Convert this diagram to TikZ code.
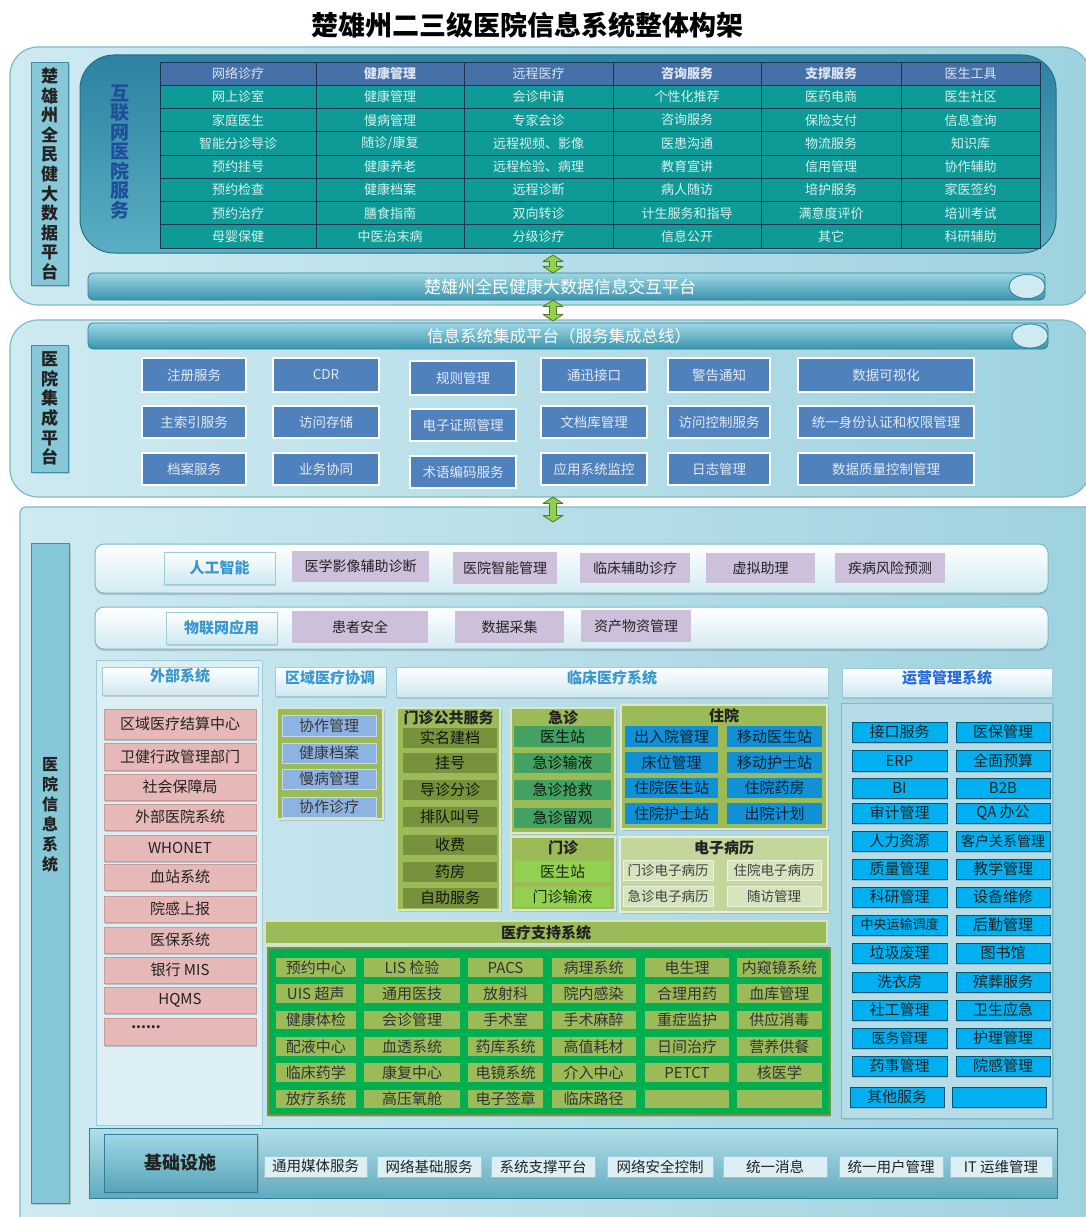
\documentclass[tikz,border=0pt]{standalone}
\usepackage{fontspec}
\setmainfont{Noto Sans CJK SC}
\usetikzlibrary{shadows,calc}
\newcommand\myfs[1]{\fontsize{#1}{#1}\selectfont}
\newcommand\vfs[2]{\fontsize{#1}{#2}\selectfont}
\definecolor{secA}{HTML}{CFEAF1}
\definecolor{secB}{HTML}{9ED2DF}
\definecolor{secD}{HTML}{7CB9C9}
\definecolor{labelbox}{HTML}{86C7D8}
\definecolor{lblD}{HTML}{3D8DA3}
\definecolor{innerA}{HTML}{2C82A0}
\definecolor{innerB}{HTML}{5AAFC3}
\definecolor{innerD}{HTML}{23708A}
\definecolor{tblhead}{HTML}{4670A8}
\definecolor{tblbody}{HTML}{0E9A96}
\definecolor{tblline}{HTML}{1E3550}
\definecolor{tbltext}{HTML}{D6F2EF}
\definecolor{headtext}{HTML}{DCE5F4}
\definecolor{titleblue}{HTML}{1F4E9A}
\definecolor{barA}{HTML}{9FD7E4}
\definecolor{barB}{HTML}{3994AE}
\definecolor{barD}{HTML}{2E7F97}
\definecolor{midblue}{HTML}{4F81BD}
\definecolor{mbtext}{HTML}{E2EAF5}
\definecolor{rowB}{HTML}{D2EBF2}
\definecolor{rowD}{HTML}{7DB9C9}
\definecolor{hdB}{HTML}{CDE8F0}
\definecolor{hdD}{HTML}{9FCBD8}
\definecolor{hdtext}{HTML}{3A97CC}
\definecolor{purp}{HTML}{CCC0DA}
\definecolor{txtdark}{HTML}{222222}
\definecolor{pink}{HTML}{E6B9B8}
\definecolor{pinkD}{HTML}{C99A99}
\definecolor{olive}{HTML}{9BBB59}
\definecolor{darkolive}{HTML}{76923C}
\definecolor{erg}{HTML}{43A262}
\definecolor{lgreen}{HTML}{92D050}
\definecolor{zyblue}{HTML}{1190D6}
\definecolor{emr}{HTML}{C3D69B}
\definecolor{emri}{HTML}{D7E4BD}
\definecolor{regblue}{HTML}{8DB3E2}
\definecolor{supgreen}{HTML}{00B050}
\definecolor{opsblue}{HTML}{00B0F0}
\definecolor{arrowg}{HTML}{92D050}
\definecolor{arrowd}{HTML}{4E7A1E}
\definecolor{panel}{HTML}{DCEFF5}
\newcommand\mybx[7]{\node[#6, minimum width={(#4)-(#2)}, minimum height={(#5)-(#3)}] (#1) at ({((#2)+(#4))/2},{((#3)+(#5))/2}) {#7};}
\newcommand\mytrow[9]{%
\mybx{#1a}{160}{#2}{316}{#3}{tc}{#4}%
\mybx{#1b}{316}{#2}{464}{#3}{tc}{#5}%
\mybx{#1c}{464}{#2}{613}{#3}{tc}{#6}%
\mybx{#1d}{613}{#2}{761}{#3}{tc}{#7}%
\mybx{#1e}{761}{#2}{901}{#3}{tc}{#8}%
\mybx{#1f}{901}{#2}{1040}{#3}{tc}{#9}}
\newcommand\mymrow[9]{%
\mybx{#1a}{142}{#2}{246}{#3}{mb}{#4}%
\mybx{#1b}{273}{#2}{379}{#3}{mb}{#5}%
\mybx{#1c}{410}{#2+3}{516}{#3+3}{mb}{#6}%
\mybx{#1d}{541}{#2}{647}{#3}{mb}{#7}%
\mybx{#1e}{668}{#2}{770}{#3}{mb}{#8}%
\mybx{#1f}{798}{#2}{974}{#3}{mb}{#9}}
\newcommand\mysrow[9]{%
\mybx{#1a}{275.5}{#2}{356}{#3}{sg}{#4}%
\mybx{#1b}{364}{#2}{460}{#3}{sg}{#5}%
\mybx{#1c}{468}{#2}{543}{#3}{sg}{#6}%
\mybx{#1d}{551.5}{#2}{635.5}{#3}{sg}{#7}%
\mybx{#1e}{645}{#2}{729}{#3}{sg}{#8}%
\mybx{#1f}{737}{#2}{821.5}{#3}{sg}{#9}}
\newcommand\myorow[5]{%
\mybx{#1a}{852}{#2}{947}{#3}{ops}{#4}%
\mybx{#1b}{956}{#2}{1050}{#3}{ops}{#5}}
\newcommand\garrow[2]{%
\path[fill=arrowg, draw=arrowd, line width=0.8pt, line join=round] let \p1=(#1), \p2=(#2) in
(\x1,\y1) -- (\x1+10pt,\y1-6.5pt) -- (\x1+3.5pt,\y1-6.5pt) -- (\x1+3.5pt,\y2+6.5pt) -- (\x1+10pt,\y2+6.5pt) -- (\x1,\y2) -- (\x1-10pt,\y2+6.5pt) -- (\x1-3.5pt,\y2+6.5pt) -- (\x1-3.5pt,\y1-6.5pt) -- (\x1-10pt,\y1-6.5pt) -- cycle;}
\begin{document}
\begin{tikzpicture}[x=1pt,y=-1pt,
 every node/.style={inner sep=0pt,outer sep=0pt},
 sect/.style={rounded corners=28, left color=secA, right color=secB, draw=secD, line width=1.2},
 lbl/.style={fill=labelbox, draw=lblD, line width=1, font=\bfseries\vfs{17}{19.6}, align=center, text=txtdark, drop shadow={opacity=0.35,shadow xshift=1.5pt,shadow yshift=-1.5pt}},
 innerbox/.style={rounded corners=34, top color=innerA, bottom color=innerB, draw=innerD, line width=1},
 tc/.style={draw=tblline, line width=0.7, text=tbltext, font=\myfs{13}},
 bar/.style={rounded corners=5, top color=barA, bottom color=barB, draw=barD, line width=0.8},
 barend/.style={fill=secA, draw=barD, line width=0.8},
 bartext/.style={text=white, font=\myfs{17}},
 mb/.style={fill=midblue, draw=white, line width=2.5, text=mbtext, font=\myfs{13.5}, drop shadow={opacity=0.2,shadow xshift=1pt,shadow yshift=-1pt}},
 rowbox/.style={rounded corners=9, top color=white, bottom color=rowB, draw=rowD, line width=1, drop shadow={opacity=0.35,shadow xshift=0pt,shadow yshift=-2pt}},
 hd/.style={top color=white, bottom color=hdB, draw=hdD, line width=0.6, text=hdtext, font=\bfseries\myfs{15}, drop shadow={opacity=0.3,shadow xshift=1pt,shadow yshift=-2pt}},
 hdt/.style={text=hdtext, font=\bfseries\myfs{15}},
 pu/.style={fill=purp, text=txtdark, font=\myfs{14}},
 pk/.style={fill=pink, draw=pinkD, line width=0.5, text=txtdark, font=\myfs{15}, drop shadow={opacity=0.4,shadow xshift=1pt,shadow yshift=-1.5pt}},
 ol/.style={fill=olive, draw=white!65!olive, line width=1.5, drop shadow={opacity=0.3,shadow xshift=1.5pt,shadow yshift=-1.5pt}},
 olt/.style={text=txtdark, font=\bfseries\myfs{15}},
 dko/.style={fill=darkolive, text=black!85!darkolive, font=\myfs{15}},
 eg/.style={fill=erg, text=black!85!erg, font=\myfs{15}},
 lg/.style={fill=lgreen, text=black!80!lgreen, font=\myfs{15}},
 zy/.style={fill=zyblue, text=black!75!zyblue, font=\myfs{15}},
 rb/.style={fill=regblue, draw=white!50!regblue, line width=0.6, text=txtdark!90, font=\myfs{15}},
 emrbox/.style={fill=emr, draw=white!60!emr, line width=1.5, drop shadow={opacity=0.3,shadow xshift=1.5pt,shadow yshift=-1.5pt}},
 emi/.style={fill=emri, draw=white!50!emri, line width=1, text=black!75, font=\myfs{13.5}},
 sg/.style={fill=olive, text=black!80, font=\myfs{15}},
 ops/.style={fill=opsblue, draw=black!50!opsblue, line width=0.5, text=txtdark, font=\myfs{15}, drop shadow={opacity=0.35,shadow xshift=1pt,shadow yshift=-1.5pt}},
 inf/.style={fill=panel, draw=hdD, line width=0.6, text=txtdark, font=\myfs{14.5}, drop shadow={opacity=0.3,shadow xshift=1pt,shadow yshift=-1.5pt}}
]
\useasboundingbox (0,0) rectangle (1085,1217);
\fill[white] (0,0) rectangle (1085,1217);

% title
\node[font=\bfseries\myfs{27}, text=black] (title) at (527,25) {楚雄州二三级医院信息系统整体构架};

% ================= top section
\mybx{topsec}{10}{47}{1090}{305}{sect}{}
\mybx{toplbl}{31}{63}{68}{285}{lbl}{楚\\雄\\州\\全\\民\\健\\大\\数\\据\\平\\台}
\mybx{inner}{80}{55}{1056}{253}{innerbox}{}
\node[font=\bfseries\vfs{19}{19.5}, text=titleblue, align=center] (ihs) at (120,152) {互\\联\\网\\医\\院\\服\\务};
\fill[tblhead] (160,62) rectangle (1040,85.2);
\fill[tblbody] (160,85.2) rectangle (1040,248);
\begin{scope}[tc/.append style={text=headtext}]
\mytrow{h}{62}{85.2}{网络诊疗}{\bfseries 健康管理}{远程医疗}{\bfseries 咨询服务}{\bfseries 支撑服务}{医生工具}
\end{scope}
\mytrow{ra}{85.2}{108.5}{网上诊室}{健康管理}{会诊申请}{个性化推荐}{医药电商}{医生社区}
\mytrow{rb}{108.5}{131.7}{家庭医生}{慢病管理}{专家会诊}{咨询服务}{保险支付}{信息查询}
\mytrow{rc}{131.7}{155}{智能分诊导诊}{随诊/康复}{远程视频、影像}{医患沟通}{物流服务}{知识库}
\mytrow{rd}{155}{178.2}{预约挂号}{健康养老}{远程检验、病理}{教育宣讲}{信用管理}{协作辅助}
\mytrow{re}{178.2}{201.5}{预约检查}{健康档案}{远程诊断}{病人随访}{培护服务}{家医签约}
\mytrow{rf}{201.5}{224.7}{预约治疗}{膳食指南}{双向转诊}{计生服务和指导}{满意度评价}{培训考试}
\mytrow{rg}{224.7}{248}{母婴保健}{中医治末病}{分级诊疗}{信息公开}{其它}{科研辅助}

\mybx{bar1}{88}{273}{1045}{300}{bar}{}
\filldraw[barend] (1027,286.5) ellipse [x radius=18, y radius=12];
\node[bartext] (bar1t) at (560,287) {楚雄州全民健康大数据信息交互平台};

% ================= middle section
\mybx{midsec}{10}{320}{1090}{497}{sect}{}
\mybx{bar2}{88}{323}{1048}{349}{bar}{}
\filldraw[barend] (1030,336) ellipse [x radius=18, y radius=12];
\node[bartext, font=\myfs{16.5}] (bar2t) at (559,336) {信息系统集成平台（服务集成总线）};
\mybx{midlbl}{31}{345}{68}{472}{lbl}{医\\院\\集\\成\\平\\台}
\mymrow{ma}{358}{392}{注册服务}{CDR}{规则管理}{通迅接口}{警告通知}{数据可视化}
\mymrow{mb}{406}{438}{主索引服务}{访问存储}{电子证照管理}{文档库管理}{访问控制服务}{统一身份认证和权限管理}
\mymrow{mc}{453}{485}{档案服务}{业务协同}{术语编码服务}{应用系统监控}{日志管理}{数据质量控制管理}

% arrows
\coordinate (a1t) at (553,255); \coordinate (a1b) at (553,273);
\coordinate (a2t) at (553,300); \coordinate (a2b) at (553,321);
\garrow{a1t}{a1b}
\garrow{a2t}{a2b}

% ================= bottom section
\mybx{botsec}{20}{507}{1100}{1235}{sect, rounded corners=6}{}
\coordinate (a3t) at (553,497); \coordinate (a3b) at (553,522);
\garrow{a3t}{a3b}
\mybx{botlbl}{31}{543}{69}{1203}{lbl, font=\bfseries\vfs{16}{20}}{}
\node[font=\bfseries\vfs{16}{20}, align=center, text=txtdark] (botlblt) at (50,815) {医\\院\\信\\息\\系\\统};

% AI row
\mybx{airow}{95}{544}{1048}{593}{rowbox}{}
\mybx{aihd}{164}{552}{275}{584}{hd}{人工智能}
\mybx{ai1}{292}{551}{429}{582}{pu}{医学影像辅助诊断}
\mybx{ai2}{453}{552}{557}{584}{pu}{医院智能管理}
\mybx{ai3}{580}{553}{690}{583}{pu}{临床辅助诊疗}
\mybx{ai4}{706}{553}{815}{583}{pu}{虚拟助理}
\mybx{ai5}{835}{553}{945}{583}{pu}{疾病风险预测}
% IoT row
\mybx{iotrow}{95}{607}{1048}{649}{rowbox}{}
\mybx{iothd}{166}{612}{277}{644}{hd}{物联网应用}
\mybx{iot1}{292}{611}{428}{643}{pu}{患者安全}
\mybx{iot2}{455}{611}{564}{643}{pu}{数据采集}
\mybx{iot3}{581}{610}{691}{642}{pu}{资产物资管理}

% external systems
\mybx{extpanel}{96}{660}{262}{1125}{fill=panel, draw=hdD, line width=0.8}{}
\mybx{exthd}{102}{667}{258}{695}{hd}{}
\node[hdt] (exthdt) at (180,676) {外部系统};
\mybx{e1}{104}{709}{256}{739}{pk}{区域医疗结算中心}
\mybx{e2}{104}{743}{256}{770}{pk}{卫健行政管理部门}
\mybx{e3}{104}{774}{256}{800}{pk}{社会保障局}
\mybx{e4}{104}{804}{256}{830}{pk}{外部医院系统}
\mybx{e5}{104}{835}{256}{861}{pk}{WHONET}
\mybx{e6}{104}{864}{256}{890}{pk}{血站系统}
\mybx{e7}{104}{896}{256}{922}{pk}{院感上报}
\mybx{e8}{104}{927}{256}{953}{pk}{医保系统}
\mybx{e9}{104}{957}{256}{983}{pk}{银行 MIS}
\mybx{e10}{104}{987}{256}{1013}{pk}{HQMS}
\mybx{e11}{104}{1018}{256}{1045}{pk}{}
\node[text=txtdark, font=\bfseries\myfs{14}] (e11t) at (146,1027) {......};

% regional
\mybx{reghd}{275}{667}{386}{696}{hd}{}
\node[hdt] (reghdt) at (330,678) {区域医疗协调};
\mybx{regbox}{277}{708}{383}{819}{ol}{}
\mybx{rg1}{282}{715}{376}{736}{rb}{协作管理}
\mybx{rg2}{282}{743}{376}{763}{rb}{健康档案}
\mybx{rg3}{282}{769}{376}{789}{rb}{慢病管理}
\mybx{rg4}{282}{797}{376}{817}{rb}{协作诊疗}

% clinical
\mybx{clihd}{396}{667}{828}{697}{hd}{}
\node[hdt] (clihdt) at (612,678) {临床医疗系统};
\mybx{mzgg}{397}{708}{500}{910}{ol}{}
\node[olt] (mzggt) at (448.5,718) {门诊公共服务};
\mybx{g1}{403}{728}{497}{748}{dko}{实名建档}
\mybx{g2}{403}{753}{497}{773}{dko}{挂号}
\mybx{g3}{403}{780}{497}{800}{dko}{导诊分诊}
\mybx{g4}{403}{807}{497}{827}{dko}{排队叫号}
\mybx{g5}{403}{835}{497}{855}{dko}{收费}
\mybx{g6}{403}{862}{497}{882}{dko}{药房}
\mybx{g7}{403}{888}{497}{908}{dko}{自助服务}

\mybx{jz}{511}{708}{615}{833}{ol}{}
\node[olt] (jzt) at (563,718) {急诊};
\mybx{j1}{514}{726}{611}{747}{eg}{医生站}
\mybx{j2}{514}{753}{611}{773}{eg}{急诊输液}
\mybx{j3}{514}{780}{611}{800}{eg}{急诊抢救}
\mybx{j4}{514}{808}{611}{828}{eg}{急诊留观}

\mybx{mz}{511}{837}{615}{910}{ol}{}
\node[olt] (mzt) at (563,848) {门诊};
\mybx{m1}{514}{861}{611}{882}{lg}{医生站}
\mybx{m2}{514}{887}{611}{907}{lg}{门诊输液}

\mybx{zyy}{621}{705}{827}{829}{ol}{}
\node[olt] (zyt) at (724,716) {住院};
\mybx{z1}{625}{726}{718}{747}{zy}{出入院管理}
\mybx{z2}{727}{726}{822}{747}{zy}{移动医生站}
\mybx{z3}{625}{752}{718}{773}{zy}{床位管理}
\mybx{z4}{727}{752}{822}{773}{zy}{移动护士站}
\mybx{z5}{625}{778}{718}{798}{zy}{住院医生站}
\mybx{z6}{727}{778}{822}{798}{zy}{住院药房}
\mybx{z7}{625}{803}{718}{824}{zy}{住院护士站}
\mybx{z8}{727}{803}{822}{824}{zy}{出院计划}

\mybx{emrb}{620}{837}{828}{912}{emrbox}{}
\node[olt] (emrt) at (724,848) {电子病历};
\mybx{em1}{623}{860}{713}{880}{emi}{门诊电子病历}
\mybx{em2}{727}{860}{821}{880}{emi}{住院电子病历}
\mybx{em3}{623}{886}{713}{906}{emi}{急诊电子病历}
\mybx{em4}{727}{886}{821}{906}{emi}{随访管理}

% medical support
\mybx{suphd}{265}{921}{827}{944}{fill=olive, draw=white!60!olive, line width=1.2, text=txtdark, font=\bfseries\myfs{15}}{医疗支持系统}
\mybx{supbox}{268}{948}{830}{1115}{fill=supgreen, draw=darkolive, line width=1.5, drop shadow={opacity=0.3,shadow xshift=1pt,shadow yshift=-2pt}}{}
\mysrow{sa}{958}{977}{预约中心}{LIS 检验}{PACS}{病理系统}{电生理}{内窥镜系统}
\mysrow{sb}{984}{1003}{UIS 超声}{通用医技}{放射科}{院内感染}{合理用药}{血库管理}
\mysrow{sc}{1011}{1029}{健康体检}{会诊管理}{手术室}{手术麻醉}{重症监护}{供应消毒}
\mysrow{sd}{1037}{1056}{配液中心}{血透系统}{药库系统}{高值耗材}{日间治疗}{营养供餐}
\mysrow{se}{1063}{1082}{临床药学}{康复中心}{电镜系统}{介入中心}{PETCT}{核医学}
\mysrow{sf}{1090}{1108}{放疗系统}{高压氧舱}{电子签章}{临床路径}{}{}

% operations
\mybx{opshd}{842}{668}{1052}{697}{hd}{}
\node[hdt, text=hdtext!70!blue] (opshdt) at (947,678) {运营管理系统};
\mybx{opsbox}{841}{703}{1052}{1118}{fill=secB!75!white, draw=secD, line width=1, drop shadow={opacity=0.25,shadow xshift=1.5pt,shadow yshift=-1.5pt}}{}
\myorow{oa}{722}{742}{接口服务}{医保管理}
\myorow{ob}{750}{771}{ERP}{全面预算}
\myorow{oc}{778}{798}{BI}{B2B}
\myorow{od}{803}{823}{审计管理}{QA 办公}
\myorow{oe}{831}{851}{人力资源}{\myfs{14}客户关系管理}
\myorow{of}{859}{879}{质量管理}{教学管理}
\myorow{og}{887}{907}{科研管理}{设备维修}
\myorow{oh}{915}{935}{\myfs{13}中央运输调度}{后勤管理}
\myorow{oi}{943}{963}{垃圾废理}{图书馆}
\myorow{oj}{972}{992}{洗衣房}{殡葬服务}
\myorow{ok}{1000}{1020}{社工管理}{卫生应急}
\myorow{ol}{1028}{1048}{\myfs{14}医务管理}{护理管理}
\myorow{om}{1056}{1076}{药事管理}{院感管理}
\mybx{ona}{850}{1087}{944}{1107}{ops}{其他服务}
\mybx{onb}{952}{1087}{1046}{1107}{ops}{}

% infrastructure
\mybx{infbox}{89}{1128}{1057}{1198}{top color=barA!80!white, bottom color=barB!80!white, draw=barD, line width=1}{}
\mybx{infhd}{104}{1134}{257}{1192}{top color=barA, bottom color=barB!85!white, draw=barD, line width=1, text=txtdark, font=\bfseries\myfs{18}, drop shadow={opacity=0.35,shadow xshift=1.5pt,shadow yshift=-2pt}}{基础设施}
\mybx{i1}{264}{1156}{367}{1177}{inf}{通用媒体服务}
\mybx{i2}{377}{1156}{481}{1177}{inf}{网络基础服务}
\mybx{i3}{491}{1156}{595}{1177}{inf}{系统支撑平台}
\mybx{i4}{607}{1156}{713}{1177}{inf}{网络安全控制}
\mybx{i5}{723}{1156}{827}{1177}{inf}{统一消息}
\mybx{i6}{839}{1156}{943}{1177}{inf}{统一用户管理}
\mybx{i7}{950}{1156}{1052}{1177}{inf}{IT 运维管理}
\end{tikzpicture}
\end{document}
